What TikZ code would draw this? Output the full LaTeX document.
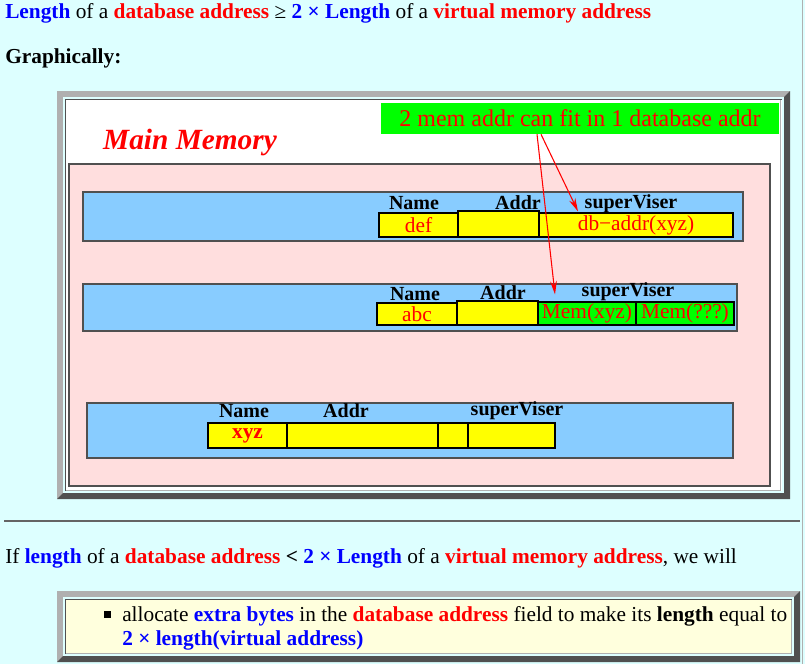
\documentclass[tikz,border=0pt]{standalone}
\usepackage{fontspec}
\setmainfont{Liberation Serif}
\usetikzlibrary{arrows.meta, positioning, calc}

\definecolor{pagecyan}{RGB}{221,255,255}
\definecolor{bevlight}{RGB}{176,176,176}
\definecolor{bevdark}{RGB}{80,80,80}
\definecolor{memblue}{RGB}{136,204,255}
\definecolor{mempink}{RGB}{255,222,222}
\definecolor{noteyellow}{RGB}{255,255,221}
\definecolor{fillgreen}{RGB}{0,255,0}
\definecolor{fillyellow}{RGB}{255,255,0}
\definecolor{rulegrey}{RGB}{100,100,100}
\newdimen\pix \pix=0.75pt

\begin{document}
\begin{tikzpicture}[x=0.75pt, y=-0.75pt,
        every node/.style={inner sep=0pt, font=\fontsize{16}{18}\selectfont},
        textline/.style={anchor=base west},
        bar/.style={draw=bevdark, fill=memblue, line width=1.2pt},
        cell/.style={draw=black, fill=fillyellow, line width=0.9pt, text=red},
        gcell/.style={cell, fill=fillgreen},
        field/.style={font=\fontsize{15}{17}\selectfont\bfseries},
        link/.style={red, line width=0.8pt, -{Stealth[length=10pt, width=5pt]}}
    ]
        \useasboundingbox (0,0) rectangle (805,664);
        \fill[pagecyan] (0,0) rectangle (805,664);
        \draw[bevlight, line width=0.8pt] (802.5,0) -- (802.5,664);

        % Text above the picture
        \node[textline] (title) at (5,18) {\textcolor{blue}{\textbf{Length}} of a \textcolor{red}{\textbf{database address}} ≥ \textcolor{blue}{\textbf{2 × Length}} of a \textcolor{red}{\textbf{virtual memory address}}};
        \node[textline, font=\fontsize{16}{18}\selectfont\bfseries] (graph) at (5,63) {Graphically:};

        % Frame of the picture
        \fill[bevlight] (57,91) rectangle (790,499);
        \fill[bevdark] (790,91) -- (790,499) -- (57,499) -- (63,493) -- (784,493) -- (784,97) -- cycle;
        \fill[pagecyan] (63,97) rectangle (784,493);
        \fill[white] (65,99) rectangle (782,491);
        \draw[bevdark, line width=0.9pt] (65.5,491) -- (65.5,99.5) -- (782,99.5);
        \draw[bevlight, line width=0.9pt] (66,490.5) -- (780.5,490.5) -- (780.5,100);

        \node[fill=fillgreen, minimum width=398\pix, minimum height=31\pix, text=red, font=\fontsize{18}{20}\selectfont] (note) at (580,118.5) {2 mem addr can fit in 1 database addr};
        \node[text=red, font=\fontsize{22}{24}\selectfont\bfseries\itshape] (memtitle) at (190,142) {Main Memory};
        \draw[fill=mempink, draw=bevdark, line width=1.3pt] (69,164) rectangle (770,486);

        % First record
        \node[bar, minimum width=660\pix, minimum height=49\pix] (bar1) at (413,216.5) {};
        \node[field] (name1) at (414,203) {Name};
        \node[field] (addr1) at (518,203) {Addr};
        \node[field] (sup1) at (631,204) {superViser};
        \node[cell, minimum width=79\pix, minimum height=24\pix] (def) at (418.5,225) {def};
        \node[cell, minimum width=81\pix, minimum height=26\pix] (addrA) at (498.5,224) {};
        \node[cell, minimum width=194\pix, minimum height=24\pix] (dbaddr) at (636,225) {db−addr(xyz)};

        % Second record
        \node[bar, minimum width=654\pix, minimum height=47\pix] (bar2) at (410,307.5) {};
        \node[field] (name2) at (415,294) {Name};
        \node[field] (addr2) at (503,293) {Addr};
        \node[field] (sup2) at (628,292) {superViser};
        \node[cell, minimum width=80\pix, minimum height=22\pix] (abc) at (417,314) {abc};
        \node[cell, minimum width=81\pix, minimum height=24\pix] (addrB) at (497.5,313) {};
        \node[gcell, minimum width=98\pix, minimum height=23\pix] (memxyz) at (587,313.5) {Mem(xyz)};
        \node[gcell, minimum width=98\pix, minimum height=23\pix] (memqqq) at (685,313.5) {Mem(???)};

        % Third record
        \node[bar, minimum width=646\pix, minimum height=55\pix] (bar3) at (410,430.5) {};
        \node[field] (name3) at (244,411) {Name};
        \node[field] (addr3) at (346,411) {Addr};
        \node[field] (sup3) at (517,411) {superViser};
        \node[cell, minimum width=79\pix, minimum height=25\pix, font=\fontsize{16}{18}\selectfont\bfseries] (xyz) at (247.5,435.5) {xyz};
        \node[cell, minimum width=151\pix, minimum height=25\pix] (addrC) at (362.5,435.5) {};
        \node[cell, minimum width=30\pix, minimum height=25\pix] (addrD) at (453,435.5) {};
        \node[cell, minimum width=87\pix, minimum height=25\pix] (supC) at (511.5,435.5) {};

        % Pointers from the note
        \draw[link] ([xshift=-43\pix]note.south) -- ($(memxyz.north)+(-32,-7)$);
        \draw[link] ([xshift=-39\pix]note.south) -- ($(dbaddr.north)+(-58,-1)$);

        % Text below the picture
        \draw[rulegrey, line width=1.5pt] (4,521) -- (800,521);
        \node[textline] (cond) at (5,563) {If \textcolor{blue}{\textbf{length}} of a \textcolor{red}{\textbf{database address}} \textbf{<} \textcolor{blue}{\textbf{2 × Length}} of a \textcolor{red}{\textbf{virtual memory address}}, we will};

        \fill[bevlight] (57,591) rectangle (800,662);
        \fill[bevdark] (800,591) -- (800,662) -- (57,662) -- (63,656) -- (794,656) -- (794,597) -- cycle;
        \fill[pagecyan] (63,597) rectangle (794,656);
        \fill[noteyellow] (65,599) rectangle (792,654);
        \draw[bevdark, line width=0.9pt] (65.5,654) -- (65.5,599.5) -- (792,599.5);
        \draw[bevlight, line width=0.9pt] (66,653.5) -- (791.5,653.5) -- (791.5,600);

        \node[fill=black, minimum size=7\pix] (dot) at (107,614) {};
        \node[textline] (todo1) at (122,621) {allocate \textcolor{blue}{\textbf{extra bytes}} in the \textcolor{red}{\textbf{database address}} field to make its \textbf{length} equal to};
        \node[textline] (todo2) at (122,645) {\textcolor{blue}{\textbf{2 × length(virtual address)}}};
    \end{tikzpicture}
\end{document}
